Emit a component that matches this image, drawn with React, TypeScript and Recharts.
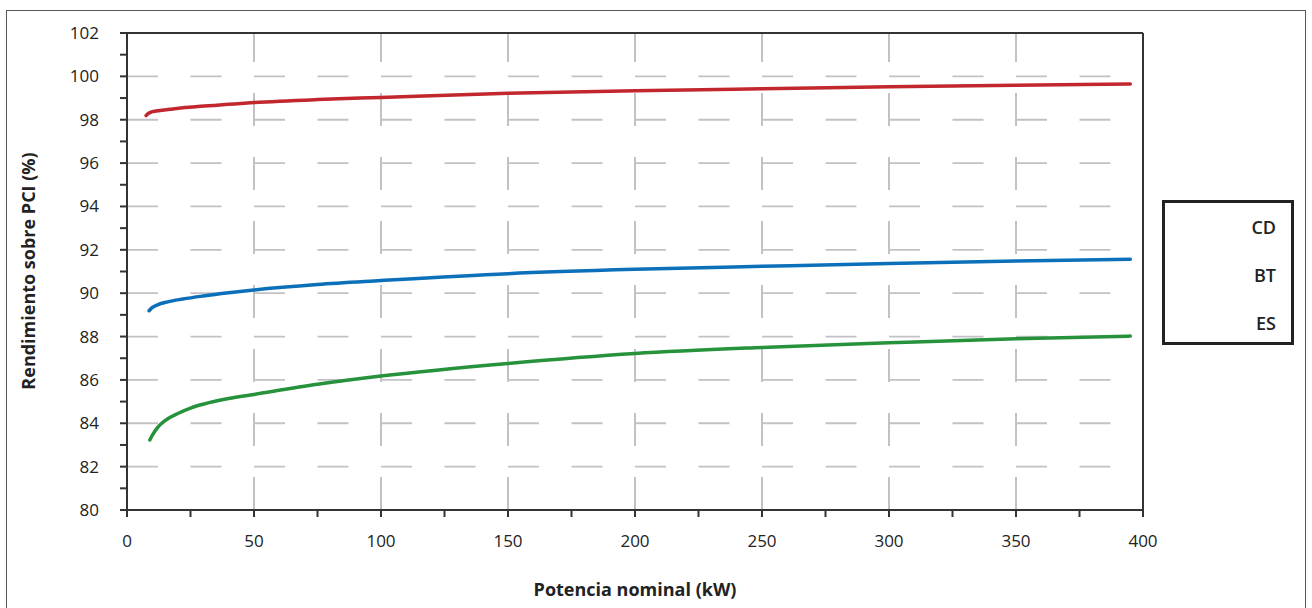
import { CartesianGrid, Legend, Line, LineChart, ReferenceLine, XAxis, YAxis } from "recharts";

// Potencia nominal (kW) and rendimiento (%)
const cdPotencia = [7.5, 8.5, 10, 13, 18, 29, 40, 50, 75, 100, 150, 200, 250, 300, 350, 395];
const cdRendimiento = [98.19, 98.3, 98.37, 98.43, 98.5, 98.62, 98.71, 98.79, 98.93, 99.03, 99.22, 99.34, 99.43, 99.52, 99.59, 99.65];

const btPotencia = [8.7, 10, 12, 16, 22, 30, 40, 50, 75, 100, 150, 200, 250, 300, 350, 395];
const btRendimiento = [89.19, 89.34, 89.46, 89.6, 89.73, 89.87, 90.02, 90.15, 90.4, 90.58, 90.9, 91.1, 91.24, 91.37, 91.48, 91.57];

const esPotencia = [9, 10, 12, 15, 20, 25, 30, 40, 50, 75, 100, 150, 200, 250, 300, 350, 395];
const esRendimiento = [83.23, 83.45, 83.8, 84.12, 84.45, 84.7, 84.88, 85.14, 85.33, 85.8, 86.18, 86.76, 87.22, 87.5, 87.71, 87.9, 88.02];

const xTicks = [0, 25, 50, 75, 100, 125, 150, 175, 200, 225, 250, 275, 300, 325, 350, 375, 400];
const yTicks = [80, 81, 82, 83, 84, 85, 86, 87, 88, 89, 90, 91, 92, 93, 94, 95, 96, 97, 98, 99, 100, 101, 102];
const hGrid = [82, 84, 86, 88, 90, 92, 94, 96, 98, 100];
const vGrid = [50, 100, 150, 200, 250, 300, 350];

const toRows = (ps: number[], vs: number[]) => ps.map((p, i) => ({ p, v: vs[i] }));

const series = [
  { name: "CD", color: "#c1272d", data: toRows(cdPotencia, cdRendimiento) },
  { name: "BT", color: "#0b70b9", data: toRows(btPotencia, btRendimiento) },
  { name: "ES", color: "#27923c", data: toRows(esPotencia, esRendimiento) },
];

const FONT = "'Open Sans', sans-serif";
const INK = "#333";

function LegendBox() {
  return (
    <div
      style={{
        boxSizing: "border-box",
        width: 132,
        height: 145,
        border: "3.5px solid #222",
        padding: "11px 15px 0 0",
        textAlign: "right",
        fontFamily: FONT,
        fontSize: 18,
        fontWeight: 600,
        color: "#222",
      }}
    >
      {series.map((s) => (
        <div key={s.name} style={{ height: 48, lineHeight: "26px" }}>
          {s.name}
        </div>
      ))}
    </div>
  );
}

export default function App() {
  return (
    <div style={{ position: "absolute", left: 0, top: 0, width: 1312, height: 608, overflow: "hidden", background: "#fff" }}>
      <div
        style={{
          position: "absolute",
          left: 6,
          top: 10,
          width: 1298,
          height: 640,
          border: "1.5px solid #555",
        }}
      />
      <LineChart
        width={1312}
        height={608}
        margin={{ top: 33, right: 169, bottom: 0, left: 0 }}
        style={{ position: "absolute", left: 0, top: 0 }}
      >
        <CartesianGrid
          horizontal
          vertical={false}
          horizontalValues={hGrid}
          stroke="#c2c2c6"
          strokeWidth={1.8}
          strokeDasharray="31 32.5"
        />
        <CartesianGrid
          horizontal={false}
          vertical
          verticalValues={vGrid}
          stroke="#c2c2c6"
          strokeWidth={2}
          strokeDasharray="33 31"
          strokeDashoffset={4}
        />
        <XAxis
          type="number"
          dataKey="p"
          domain={[0, 400]}
          ticks={xTicks}
          interval={0}
          height={98}
          tickSize={7}
          tickMargin={18}
          tickFormatter={(v: number) => (v % 50 === 0 ? String(v) : "")}
          tick={{ fill: "#222", fontSize: 17, fontFamily: FONT }}
          axisLine={{ stroke: INK, strokeWidth: 2 }}
          tickLine={{ stroke: INK, strokeWidth: 2 }}
          label={{
            value: "Potencia nominal (kW)",
            position: "insideBottom",
            offset: 12,
            fill: "#222",
            fontSize: 18,
            fontWeight: 700,
            fontFamily: FONT,
          }}
        />
        <YAxis
          type="number"
          domain={[80, 102]}
          ticks={yTicks}
          interval={0}
          width={127}
          tickSize={7}
          tickMargin={21}
          tickFormatter={(v: number) => (v % 2 === 0 ? String(v) : "")}
          tick={{ fill: "#222", fontSize: 17, fontFamily: FONT }}
          axisLine={{ stroke: INK, strokeWidth: 2 }}
          tickLine={{ stroke: INK, strokeWidth: 2 }}
          label={() => (
            <text
              x={28}
              y={271}
              transform="rotate(-90 28 271)"
              textAnchor="middle"
              dominantBaseline="central"
              fill="#222"
              fontSize={18}
              fontWeight={700}
              fontFamily={FONT}
            >
              Rendimiento sobre PCI (%)
            </text>
          )}
        />
        <ReferenceLine y={102} stroke={INK} strokeWidth={2} />
        <ReferenceLine x={400} stroke={INK} strokeWidth={2} />
        {series.map((s) => (
          <Line
            key={s.name}
            name={s.name}
            data={s.data}
            dataKey="v"
            type="monotone"
            stroke={s.color}
            strokeWidth={3.5}
            strokeLinecap="round"
            dot={false}
            activeDot={false}
            isAnimationActive={false}
          />
        ))}
        <Legend
          layout="horizontal"
          align="center"
          verticalAlign="middle"
          content={<LegendBox />}
          wrapperStyle={{ position: "absolute", left: 1162, top: 200, width: 132, height: 145 }}
        />
      </LineChart>
    </div>
  );
}
